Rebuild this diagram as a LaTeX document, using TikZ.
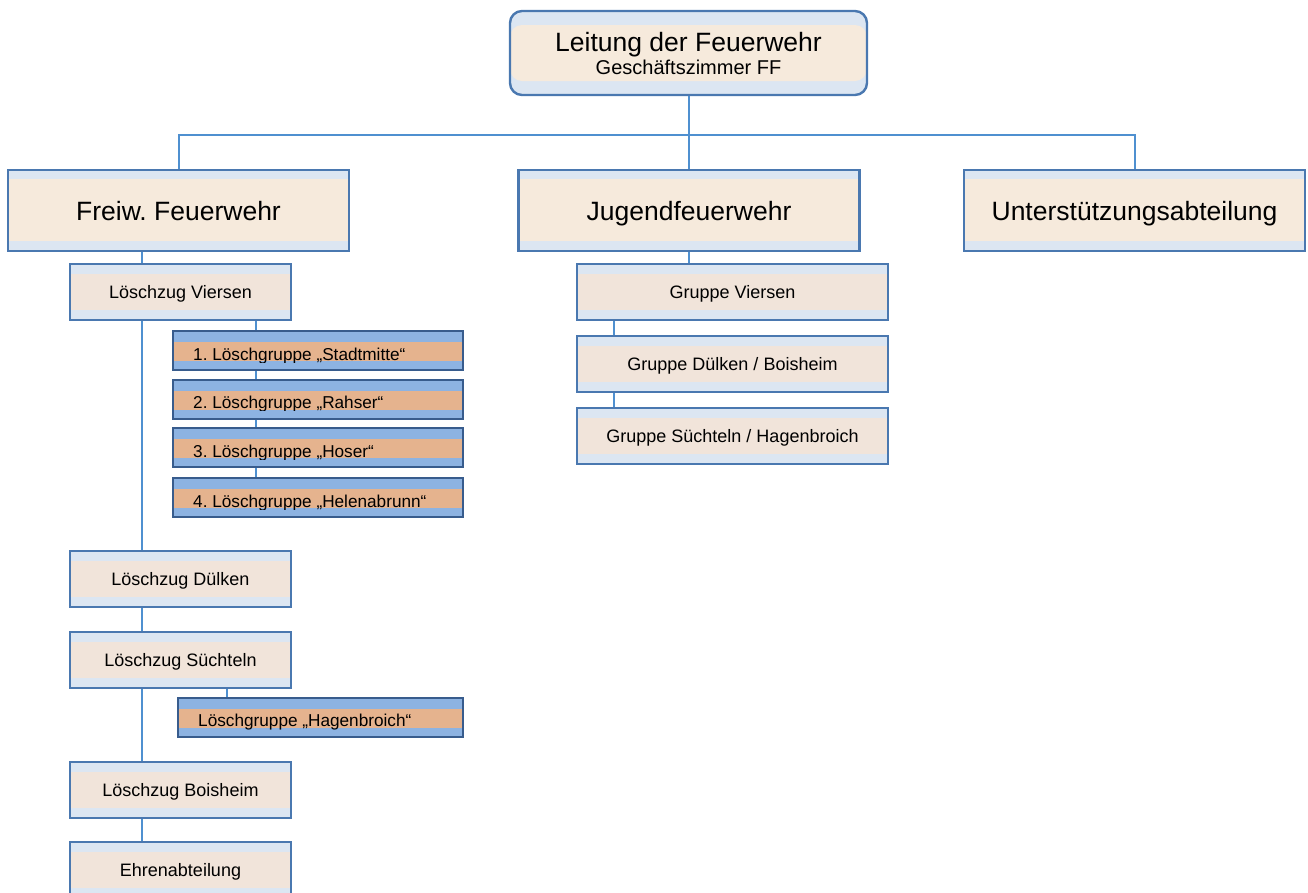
\documentclass[tikz,border=0pt]{standalone}
\usepackage{fontspec}
\setmainfont{Liberation Sans}
\frenchspacing
\definecolor{bord}{HTML}{4A78B0}
\definecolor{lgbord}{HTML}{385C8D}
\definecolor{lblue}{HTML}{DCE6F2}
\definecolor{beigeA}{HTML}{F6EADC}
\definecolor{beigeB}{HTML}{F1E4DA}
\definecolor{gblue}{HTML}{8DB3E2}
\definecolor{oran}{HTML}{E5B38E}
\definecolor{conn}{HTML}{4F90D0}
\begin{document}
\begin{tikzpicture}[x=1pt,y=-1pt,
  band/.style n args={3}{path picture={\fill[#1] ([yshift=-#2pt]path picture bounding box.north west) rectangle ([yshift=#3pt]path picture bounding box.south east);}},
  cbox/.style={draw=bord, line width=2.4pt, fill=lblue, inner sep=0pt, text depth=0pt},
  bigbox/.style={cbox, minimum width=341pt, minimum height=81pt, band={beigeA}{9}{10}, font=\fontsize{26.5}{30}\selectfont, text height=19pt},
  midbox/.style={cbox, line width=2pt, minimum height=56pt, band={beigeB}{10}{10}, font=\fontsize{18}{22}\selectfont, text height=13pt},
  lgbox/.style={draw=lgbord, line width=2pt, fill=gblue, inner sep=0pt, minimum height=39pt, band={oran}{11}{9}},
  lgtext/.style={anchor=base west, inner sep=0pt, font=\fontsize{17.2}{20}\selectfont},
  conline/.style={draw=conn, line width=2pt}
]
\useasboundingbox (0,0) rectangle (1308,892);
\clip (0,0) rectangle (1308,892);

% top box
\node[cbox, rounded corners=12pt, minimum width=357pt, minimum height=84pt, band={beigeA}{14}{14}] (top) at (688.5,53) {};
\node[anchor=base, inner sep=0pt, font=\fontsize{26.5}{30}\selectfont] (toptext) at (688.5,51) {Leitung der Feuerwehr};
\node[anchor=base, inner sep=0pt, font=\fontsize{20}{24}\selectfont] (topsub) at (688.5,74) {Geschäftszimmer FF};

% level 2
\node[bigbox] (ff) at (178.5,210.5) {Freiw. Feuerwehr};
\node[bigbox] (jf) at (689,210.5) {Jugendfeuerwehr};
\node[bigbox] (ua) at (1134.5,210.5) {Unterstützungsabteilung};

% Loeschzuege
\node[midbox, minimum width=221pt] (lzv) at (180.5,292) {Löschzug Viersen};
\node[midbox, minimum width=221pt] (lzd) at (180.5,579) {Löschzug Dülken};
\node[midbox, minimum width=221pt] (lzs) at (180.5,660) {Löschzug Süchteln};
\node[midbox, minimum width=221pt] (lzb) at (180.5,789.5) {Löschzug Boisheim};
\node[midbox, minimum width=221pt] (ehr) at (180.5,870) {Ehrenabteilung};

% Jugend groups
\node[midbox, minimum width=311pt] (gv) at (732.5,292) {Gruppe Viersen};
\node[midbox, minimum width=311pt] (gd) at (732.5,364) {Gruppe Dülken / Boisheim};
\node[midbox, minimum width=311pt] (gs) at (732.5,436) {Gruppe Süchteln / Hagenbroich};

% Loeschgruppen
\node[lgbox, minimum width=290pt] (lg1) at (318,350.5) {};
\node[lgbox, minimum width=290pt] (lg2) at (318,399) {};
\node[lgbox, minimum width=290pt] (lg3) at (318,447.5) {};
\node[lgbox, minimum width=290pt] (lg4) at (318,497.5) {};
\node[lgbox, minimum width=285pt] (hag) at (320.5,717.5) {};

\begin{scope}
\clip (lg1.north west) rectangle ([yshift=9pt]lg1.south east);
\node[lgtext] (lg1t) at ([xshift=21pt,yshift=11pt]lg1.south west) {1. Löschgruppe „Stadtmitte“};
\end{scope}
\begin{scope}
\clip (lg2.north west) rectangle ([yshift=9pt]lg2.south east);
\node[lgtext] (lg2t) at ([xshift=21pt,yshift=11pt]lg2.south west) {2. Löschgruppe „Rahser“};
\end{scope}
\begin{scope}
\clip (lg3.north west) rectangle ([yshift=9pt]lg3.south east);
\node[lgtext] (lg3t) at ([xshift=21pt,yshift=11pt]lg3.south west) {3. Löschgruppe „Hoser“};
\end{scope}
\begin{scope}
\clip (lg4.north west) rectangle ([yshift=9pt]lg4.south east);
\node[lgtext] (lg4t) at ([xshift=21pt,yshift=11pt]lg4.south west) {4. Löschgruppe „Helenabrunn“};
\end{scope}
\begin{scope}
\clip (hag.north west) rectangle ([yshift=9pt]hag.south east);
\node[lgtext] (hagt) at ([xshift=21pt,yshift=12pt]hag.south west) {Löschgruppe „Hagenbroich“};
\end{scope}

% connectors
\coordinate (hb) at (0,135);
\coordinate (lx) at (142,0);
\coordinate (gx) at (256,0);
\coordinate (hx) at (227,0);
\coordinate (jx) at (614,0);
\draw[conline] (top.south) -- (top.south |- hb);
\draw[conline] (ff.north) |- (ua.north |- hb) -- (ua.north);
\draw[conline] (jf.north) -- (jf.north |- hb);
\draw[conline] (ff.south -| lx) -- (lzv.north -| lx);
\draw[conline] (lzv.south -| lx) -- (lzd.north -| lx);
\draw[conline] (lzd.south -| lx) -- (lzs.north -| lx);
\draw[conline] (lzs.south -| lx) -- (lzb.north -| lx);
\draw[conline] (lzb.south -| lx) -- (ehr.north -| lx);
\draw[conline] (lzv.south -| gx) -- (lg1.north -| gx);
\draw[conline] (lg1.south -| gx) -- (lg2.north -| gx);
\draw[conline] (lg2.south -| gx) -- (lg3.north -| gx);
\draw[conline] (lg3.south -| gx) -- (lg4.north -| gx);
\draw[conline] (lzs.south -| hx) -- (hag.north -| hx);
\draw[conline] (jf.south) -- (gv.north -| jf.south);
\draw[conline] (gv.south -| jx) -- (gd.north -| jx);
\draw[conline] (gd.south -| jx) -- (gs.north -| jx);
\end{tikzpicture}
\end{document}
